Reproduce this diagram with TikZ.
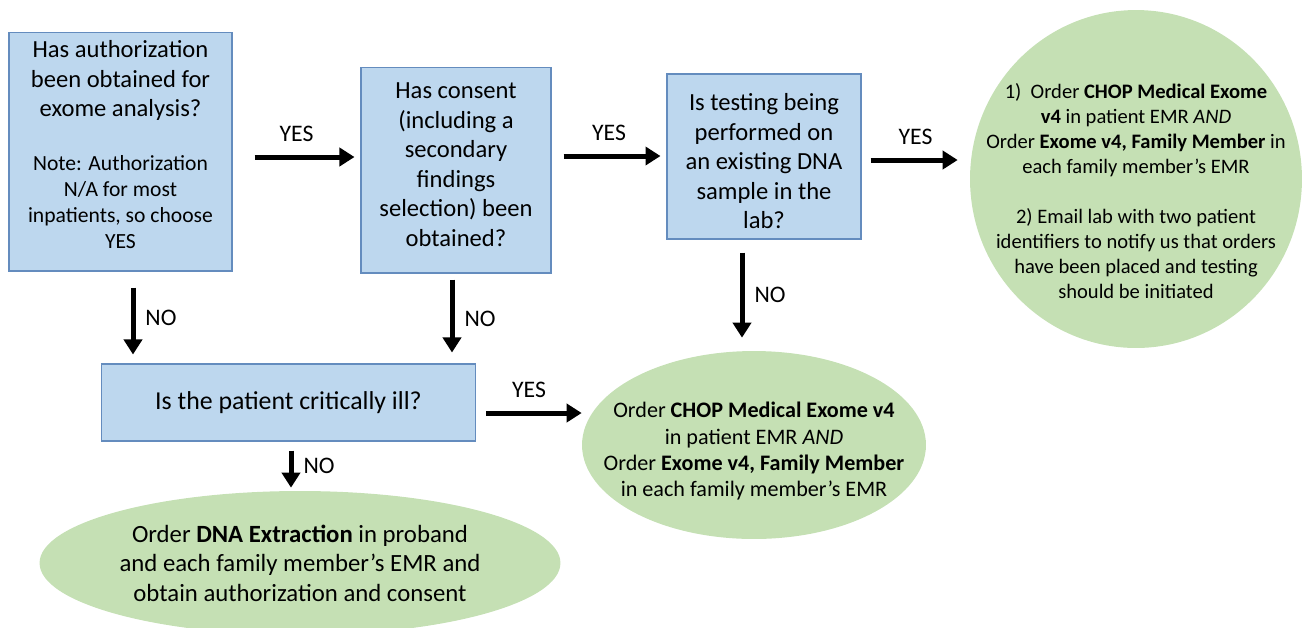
\documentclass[tikz,border=0pt]{standalone}
\usepackage{fontspec}
\setmainfont{Carlito}
\usetikzlibrary{shapes.geometric,arrows.meta,positioning}
\definecolor{QuestionFill}{RGB}{189,215,238}
\definecolor{QuestionLine}{RGB}{100,140,190}
\definecolor{ActionFill}{RGB}{197,224,180}
\newcommand{\notefont}{\fontsize{12.3}{14.7}\selectfont}
\tikzstyle{Question} = [draw=QuestionLine, fill=QuestionFill, line width=0.6pt, rectangle, align=center, inner sep=2pt, font=\fontsize{14}{16.8}\selectfont]
\tikzstyle{Action} = [fill=ActionFill, ellipse, align=center]
\tikzstyle{Arrow} = [line width=0.1cm, -{Triangle[length=0.3cm,width=0.36cm]}]
\tikzstyle{Answer} = [inner sep=0pt, font=\fontsize{13.5}{16}\selectfont]

\begin{document}
\begin{tikzpicture}[x=0.02cm, y=-0.02cm]
    \useasboundingbox (0,0) rectangle (1306,627);
    % questions
    \node[Question, minimum width=4.46cm, minimum height=4.78cm] (auth) at (120.5,151.5)
        {Has authorization\\ been obtained for\\ exome analysis?\\[13.9pt]
         {\notefont Note: Authorization}\\[-2.1pt] {\notefont N/A for most}\\[-2.1pt]
         {\notefont inpatients, so choose}\\[-2.1pt] {\notefont YES}\rule[-8pt]{0pt}{8pt}};
    \node[Question, minimum width=3.8cm, minimum height=4.12cm] (consent) at (456,170)
        {Has consent\\ (including a\\ secondary\\ findings\\ selection) been\\ obtained?\rule[-6pt]{0pt}{6pt}};
    \node[Question, minimum width=3.88cm, minimum height=3.3cm] (sample) at (764,156.5)
        {\rule{0pt}{15pt}Is testing being\\ performed on\\ an existing DNA\\ sample in the\\ lab?};
    \node[Question, minimum width=7.5cm, minimum height=1.54cm, font=\fontsize{14.7}{17}\selectfont] (ill) at (288.5,402.5)
        {Is the patient critically ill?};
    % actions
    \node[Action, minimum width=6.64cm, minimum height=6.76cm, inner sep=-0.7cm,
          font=\fontsize{11.7}{14.2}\selectfont] (done) at (1136,179)
        {\rule{0pt}{22pt}1)~~Order \textbf{CHOP Medical Exome}\\ \textbf{v4} in patient EMR \textit{AND}\\
         Order \textbf{Exome v4, Family Member} in\\ each family member’s EMR\\[0.5cm]
         2) Email lab with two patient\\ identifiers to notify us that orders\\
         have been placed and testing\\ should be initiated};
    \node[Action, minimum width=6.88cm, minimum height=3.76cm, inner sep=-0.6cm,
          font=\fontsize{12.6}{15}\selectfont] (order) at (754,445)
        {\rule{0pt}{16pt}Order \textbf{CHOP Medical Exome v4}\\ in patient EMR \textit{AND}\\
         Order \textbf{Exome v4, Family Member}\\ in each family member’s EMR};
    \node[Action, minimum width=10.42cm, minimum height=2.88cm, inner sep=-0.3cm,
          font=\fontsize{14.1}{16.8}\selectfont] (dna) at (300,563)
        {Order \textbf{DNA Extraction} in proband\\ and each family member’s EMR and\\
         obtain authorization and consent};
    % arrow rows and columns
    \coordinate (row1) at (0,157);
    \coordinate (row2) at (0,156);
    \coordinate (row3) at (0,160);
    \coordinate (row4) at (0,413);
    \coordinate (col1) at (133,0);
    \coordinate (col2) at (452,0);
    \coordinate (col3) at (742,0);
    \coordinate (col4) at (291,0);
    \draw[Arrow, shorten <=0.44cm, shorten >=0.12cm] (auth.east |- row1) -- node[Answer, above=0.25cm] {YES} (consent.west |- row1);
    \draw[Arrow, shorten <=0.24cm, shorten >=0.12cm] (consent.east |- row2) -- node[Answer, above=0.25cm] {YES} (sample.west |- row2);
    \draw[Arrow, shorten <=0.18cm, shorten >=0.24cm] (sample.east |- row3) -- node[Answer, above=0.25cm] {YES} (done.west |- row3);
    \draw[Arrow, shorten <=0.2cm] (ill.east |- row4) -- node[Answer, above=0.25cm] {YES} (order.west |- row4);
    \draw[Arrow, shorten <=0.32cm, shorten >=0.18cm] (auth.south -| col1) -- node[Answer, right=0.2cm] {NO} (ill.north -| col1);
    \draw[Arrow, shorten <=0.12cm, shorten >=0.22cm] (consent.south -| col2) -- node[Answer, right=0.2cm] {NO} (ill.north -| col2);
    \draw[Arrow, shorten <=0.26cm, shorten >=0.26cm] (sample.south -| col3) -- node[Answer, right=0.2cm] {NO} (order.north -| col3);
    \draw[Arrow, shorten <=0.18cm, shorten >=0.06cm] (ill.south -| col4) -- node[Answer, right=0.2cm] {NO} (dna.north -| col4);
\end{tikzpicture}
\end{document}
